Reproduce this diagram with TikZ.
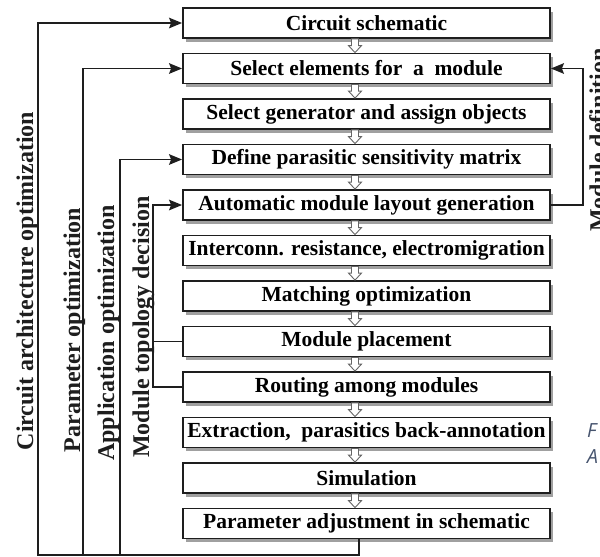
\documentclass[tikz,border=0pt]{standalone}
\usepackage{fontspec}
\setmainfont{Liberation Serif}
\newfontfamily\notefont{Open Sans}
\usetikzlibrary{arrows.meta,calc,shadows}
\definecolor{ink}{HTML}{1E1E1E}
\definecolor{notecol}{HTML}{46546E}
\begin{document}
\begin{tikzpicture}[x=1pt,y=-1pt,
  stepbox/.style={draw=ink, line width=1.8pt, fill=white,
    minimum width=367pt, minimum height=30pt, inner sep=0pt,
    font=\fontsize{21.5}{24}\selectfont\bfseries,
    drop shadow={shadow xshift=3pt, shadow yshift=-3.5pt, fill=black!50, opacity=0.75}},
  sidelabel/.style={rotate=90, anchor=base, inner sep=0pt,
    font=\fontsize{24}{26}\selectfont\bfseries, text=ink},
  feed/.style={draw=ink, line width=1.7pt, line cap=rect},
  feedarrow/.style={feed, -{Stealth[length=13pt,width=10.5pt,inset=2pt]}},
  hollowarrow/.style={draw=black!60, line width=0.9pt, fill=white, line join=miter},
  note/.style={anchor=base west, inner sep=0pt,
    font=\notefont\itshape\fontsize{19.5}{22}\selectfont, text=notecol}]
\clip (0,0) rectangle (600,557);

% process steps
\node[stepbox] (b1)  at (366.5,23)    {Circuit schematic};
\node[stepbox] (b2)  at (366.5,68.5)  {Select elements for \ a \ module};
\node[stepbox] (b3)  at (366.5,114)   {Select generator and assign objects};
\node[stepbox] (b4)  at (366.5,159.5) {Define parasitic sensitivity matrix};
\node[stepbox] (b5)  at (366.5,205)   {Automatic module layout generation};
\node[stepbox] (b6)  at (366.5,250.5) {Interconn. resistance, electromigration};
\node[stepbox] (b7)  at (366.5,296)   {Matching optimization};
\node[stepbox] (b8)  at (366.5,341.5) {Module placement};
\node[stepbox] (b9)  at (366.5,387)   {Routing among modules};
\node[stepbox] (b10) at (366.5,432.5) {Extraction, \ parasitics back-annotation};
\node[stepbox] (b11) at (366.5,478)   {Simulation};
\node[stepbox] (b12) at (366.5,523.5) {Parameter adjustment in schematic};

% hollow flow arrows between consecutive steps
\foreach \i [evaluate=\i as \j using int(\i+1)] in {1,...,11}{
  \draw[hollowarrow]
    ($(b\i.south)+(-15,0)$) -- ($(b\i.south)+(-8,0)$)
    -- ($(b\j.north)+(-8,-7)$) -- ($(b\j.north)+(-5,-7)$)
    -- ($(b\j.north)+(-11.5,0)$)
    -- ($(b\j.north)+(-18,-7)$) -- ($(b\j.north)+(-15,-7)$) -- cycle;
}

% feedback loops on the left
\coordinate (drop) at ($(b12.south)+(-7.5,0)$);
\coordinate (t1) at (38,555);
\coordinate (t2) at (83,555);
\coordinate (t3) at (120,555);
\coordinate (t4) at (153,300);
\draw[feed] (drop) |- (t1);
\draw[feedarrow] (t1) |- (b1.west);
\draw[feedarrow] (t2) |- (b2.west);
\draw[feedarrow] (t3) |- (b4.west);
\draw[feedarrow] (b9.west) -- (b9.west -| t4) |- (b5.west);
\draw[feed] (b8.west) -- (b8.west -| t4);

% module definition loop on the right
\coordinate (r) at (583,100);
\draw[feedarrow] (b5.east) -- (b5.east -| r) |- (b2.east);

% loop labels
\node[sidelabel] (l1) at (33,281)    {Circuit architecture optimization};
\node[sidelabel] (l2) at (80,330)    {Parameter optimization};
\node[sidelabel] (l3) at (114,333)   {Application optimization};
\node[sidelabel] (l4) at (149,327)   {Module topology decision};
\node[sidelabel] (l5) at (606,140)   {Module definition};

% caption fragments at the right edge
\node[note] (n1) at (587,437) {F};
\node[note] (n2) at (587,463) {A};
\end{tikzpicture}
\end{document}
